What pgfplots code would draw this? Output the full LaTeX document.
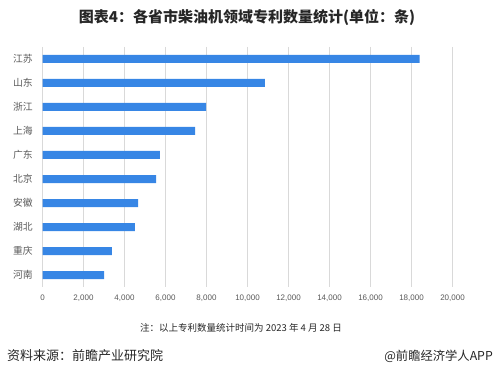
\documentclass[border=0pt]{standalone}
\usepackage{pgfplots}
\pgfplotsset{compat=1.18}
\usepackage{fontspec}
\setmainfont{Liberation Sans}
\newfontfamily\cjk{Noto Sans CJK SC}
\definecolor{barc}{RGB}{55,134,229}
\definecolor{gridc}{RGB}{217,217,217}
\definecolor{lab}{RGB}{89,89,89}
\definecolor{titc}{RGB}{38,38,38}
\begin{document}
\begin{tikzpicture}
\path[use as bounding box] (0pt,0pt) rectangle (494pt,383pt);
\begin{axis}[
  at={(42.5pt,96pt)}, anchor=south west,
  scale only axis, width=410pt, height=240pt,
  xmin=0, xmax=20000, ymin=-0.5, ymax=9.5, y dir=reverse,
  xbar, bar width=8pt,
  axis line style={draw=none},
  xmajorgrids, major grid style={gridc, line width=0.8pt},
  xtick={0,2000,...,20000},
  ytick={0,...,9},
  yticklabels={江苏,山东,浙江,上海,广东,北京,安徽,湖北,重庆,河南},
  yticklabel style={font=\cjk\fontsize{9.8}{10}\selectfont, text=lab, xshift=-2pt},
  xticklabel style={font=\fontsize{8}{9}\selectfont, text=lab, yshift=-4pt},
  /pgf/number format/assume math mode=true,
  /pgf/number format/1000 sep={,},
  scaled x ticks=false,
  tick style={draw=none},
  clip=false,
]
\addplot[fill=barc, draw=none] coordinates {
  (18400,0) (10850,1) (7980,2) (7440,3) (5730,4)
  (5540,5) (4660,6) (4510,7) (3390,8) (3000,9)};
\end{axis}
\node[font=\cjk\bfseries\fontsize{15}{16}\selectfont, text=titc] at (247pt,366pt) {图表4：各省市柴油机领域专利数量统计(单位：条)};
\node[font=\cjk\fontsize{9.5}{10}\selectfont, text=titc] at (241pt,55pt) {注：以上专利数量统计时间为 2023 年 4 月 28 日};
\node[font=\cjk\fontsize{13}{14}\selectfont, text=titc, anchor=west, inner sep=0pt] at (7pt,27pt) {资料来源：前瞻产业研究院};
\node[font=\cjk\fontsize{12.3}{13}\selectfont, text=titc, anchor=east, inner sep=0pt] at (493pt,27pt) {@前瞻经济学人APP};
\end{tikzpicture}
\end{document}
